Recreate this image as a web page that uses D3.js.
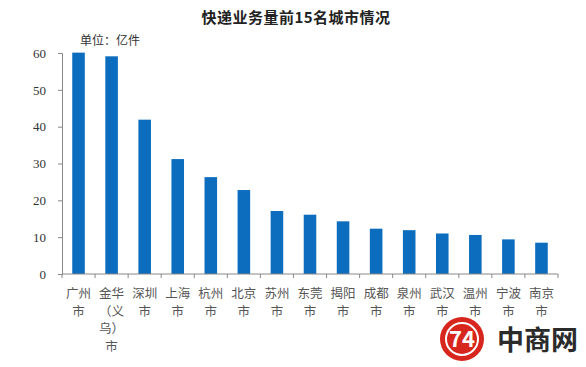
<!DOCTYPE html>
<html>
<head>
<meta charset="utf-8">
<script src="https://cdn.jsdelivr.net/npm/d3@7"></script>
<style>
  body { margin: 0; background: #fff; }
  svg { display: block; }
</style>
</head>
<body>
<svg width="586" height="367"></svg>
<script>
// 城市名按行拆开，和原图一样每行两个字
let cities = [
  ["广州", "市"], ["金华", "（义", "乌）", "市"], ["深圳", "市"], ["上海", "市"],
  ["杭州", "市"], ["北京", "市"], ["苏州", "市"], ["东莞", "市"], ["揭阳", "市"],
  ["成都", "市"], ["泉州", "市"], ["武汉", "市"], ["温州", "市"], ["宁波", "市"], ["南京", "市"]
];
let volumes = [60.1, 59.1, 41.9, 31.2, 26.3, 22.8, 17.1, 16.1, 14.3, 12.3, 11.9, 11.0, 10.6, 9.4, 8.5];
let yTicks = [0, 10, 20, 30, 40, 50, 60];

let svg = d3.select("svg");
let margin = { left: 62, right: 28, top: 53, bottom: 93 };
let width = +svg.attr("width"), height = +svg.attr("height");
let serif = "'Liberation Serif', 'DejaVu Serif', serif";
let cjk = "'Noto Sans CJK SC', sans-serif";

let x = d3.scaleBand()
  .domain(d3.range(cities.length))
  .range([margin.left, width - margin.right])
  .paddingInner(0.62).paddingOuter(0.31);

let y = d3.scaleLinear()
  .domain([0, 60])
  .range([height - margin.bottom, margin.top]);

// 标题
svg.append("text")
  .attr("x", 296).attr("y", 23)
  .attr("text-anchor", "middle")
  .style("font-family", cjk).style("font-weight", "bold")
  .style("font-size", "15px").style("letter-spacing", "0.5px").attr("fill", "#222")
  .text("快递业务量前15名城市情况");

svg.append("text")
  .attr("x", 80).attr("y", 45)
  .style("font-family", cjk).style("font-size", "12px").attr("fill", "#333")
  .text("单位：亿件");

// 柱子
svg.append("g").selectAll("rect")
  .data(volumes)
  .enter().append("rect")
  .attr("x", (d, i) => x(i))
  .attr("y", d => y(d))
  .attr("width", x.bandwidth())
  .attr("height", d => y(0) - y(d))
  .attr("fill", "#0c6dbf");

// y 轴
let yAxis = svg.append("g")
  .attr("transform", `translate(${margin.left},0)`)
  .attr("font-family", null)
  .call(d3.axisLeft(y).tickValues(yTicks).tickSize(4).tickPadding(12));
yAxis.attr("font-family", serif);
yAxis.select(".domain").attr("stroke", "#888");
yAxis.selectAll(".tick line").attr("stroke", "#888");
yAxis.selectAll(".tick text")
  .style("font-family", serif).style("font-size", "13px").attr("fill", "#333");

// x 轴：刻度在类别之间
let x0 = y(0);
svg.append("line")
  .attr("x1", margin.left).attr("x2", width - margin.right)
  .attr("y1", x0).attr("y2", x0)
  .attr("stroke", "#888");
svg.append("g").selectAll("line")
  .data(d3.range(cities.length + 1))
  .enter().append("line")
  .attr("x1", i => margin.left + i * x.step())
  .attr("x2", i => margin.left + i * x.step())
  .attr("y1", x0).attr("y2", x0 + 4)
  .attr("stroke", "#888");

let labels = svg.append("g").selectAll("text")
  .data(cities)
  .enter().append("text")
  .attr("text-anchor", "middle")
  .style("font-family", cjk).style("font-size", "12.5px").attr("fill", "#555")
  .attr("transform", (d, i) => `translate(${x(i) + x.bandwidth() / 2},${x0 + 24})`);
labels.selectAll("tspan")
  .data(d => d)
  .enter().append("tspan")
  .attr("x", 0)
  .attr("y", (d, i) => i * 17.5)
  .text(d => d);

// 右下角水印
let wm = svg.append("g").attr("transform", "translate(462,339)");
wm.append("circle").attr("r", 22).attr("fill", "#d7261e");
wm.append("circle").attr("r", 16).attr("fill", "none").attr("stroke", "#fff").attr("stroke-width", 2);
wm.append("text")
  .attr("text-anchor", "middle").attr("y", 8)
  .style("font-family", cjk).style("font-weight", "bold").style("font-size", "22px")
  .attr("fill", "#fff").text("74");
svg.append("text")
  .attr("x", 497).attr("y", 350)
  .style("font-family", cjk).style("font-weight", "bold").style("font-size", "27px")
  .attr("fill", "#2b2b2b").text("中商网");
</script>
</body>
</html>
